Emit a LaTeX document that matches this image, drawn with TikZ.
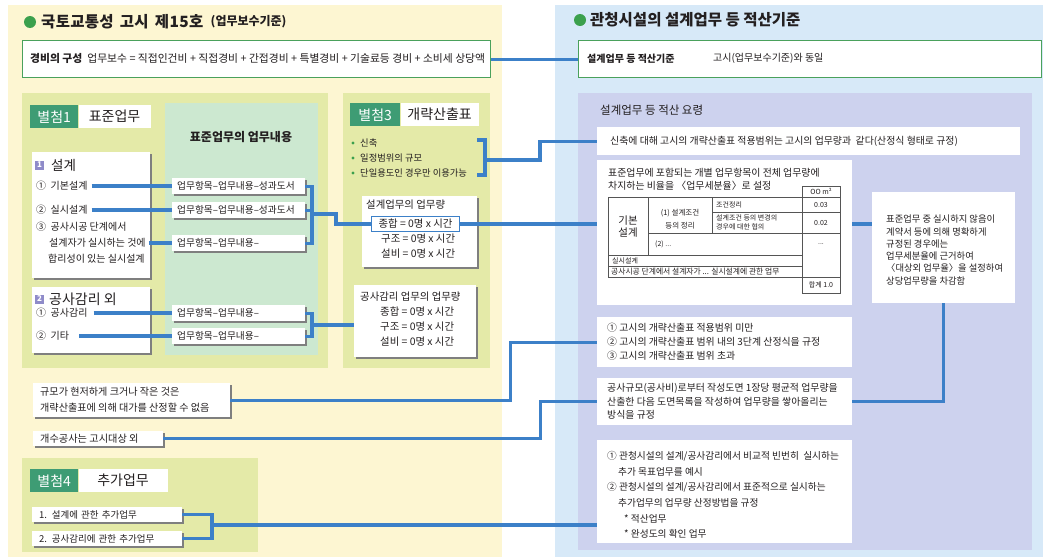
\documentclass[tikz,border=0pt]{standalone}
\usepackage{fontspec}
\setmainfont{Noto Sans CJK KR}
\newfontfamily\ttlfont[LetterSpace=2]{Noto Sans CJK KR}
\usetikzlibrary{shadows,calc}
\definecolor{bgyellow}{HTML}{FDF6D2}
\definecolor{bgblue}{HTML}{D7E9F8}
\definecolor{lav}{HTML}{CDD2EE}
\definecolor{olive}{HTML}{E4EAA8}
\definecolor{mint}{HTML}{CCE8D0}
\definecolor{labgreen}{HTML}{3E9C74}
\definecolor{cblue}{HTML}{3C80C8}
\definecolor{gborder}{HTML}{4AA15C}
\definecolor{dotgreen}{HTML}{3BA04D}
\definecolor{sqpurple}{HTML}{8F8BC9}
\definecolor{shgray}{HTML}{7F7F7F}
\definecolor{txtc}{HTML}{231F20}
\definecolor{tgray}{HTML}{555555}
\begin{document}
\begin{tikzpicture}[x=1pt,y=-1pt,
  every node/.style={text=txtc},
  conn/.style={draw=cblue, line width=3.2pt},
  wbox/.style={fill=white, inner sep=0pt, anchor=north west,
    drop shadow={shadow xshift=2pt, shadow yshift=-2pt, fill=shgray, opacity=1}},
  pbox/.style={fill=white, inner sep=0pt, anchor=north west},
  gbox/.style={fill=white, draw=gborder, line width=1.3pt, inner sep=0pt, anchor=north west},
  itembox/.style={wbox, minimum height=16pt, text width=123pt, inner xsep=5pt, align=left,
    font=\fontsize{9.7}{11}\selectfont},
  addbox/.style={wbox, minimum height=15pt, text width=136pt, inner xsep=7pt, align=left,
    font=\fontsize{9.5}{11}\selectfont},
  glab/.style={fill=labgreen, text=white, inner sep=0pt, anchor=north west, minimum height=23pt,
    font=\fontsize{14}{16}\selectfont},
  wlab/.style={fill=white, inner sep=0pt, anchor=north west, minimum height=23pt,
    font=\fontsize{14}{16}\selectfont},
  numsq/.style={fill=sqpurple, text=white, inner sep=0pt, minimum size=9pt,
    font=\fontsize{8}{9}\selectfont\bfseries},
  tx/.style={inner sep=0pt, anchor=west},
  f10/.style={font=\fontsize{10}{12}\selectfont},
  fq/.style={font=\fontsize{10.4}{12}\selectfont},
  f9/.style={font=\fontsize{9.3}{11}\selectfont},
  fr/.style={font=\fontsize{9.9}{14}\selectfont},
  ft/.style={font=\fontsize{7}{9}\selectfont},
  tl/.style={draw=tgray, line width=0.6pt},
  dot/.style={fill=dotgreen}
]
\useasboundingbox (0,0) rectangle (1043,557);

% ---------- background panels ----------
\fill[bgyellow] (8,5) rectangle (502,557);
\fill[bgblue] (555,5) rectangle (1043,557);
\fill[lav] (578,93) rectangle (1032,550);
\fill[olive] (22,93) rectangle (328,368);
\fill[mint] (165,103) rectangle (318,355);
\fill[olive] (343,93) rectangle (490,368);
\fill[olive] (22,458) rectangle (258,552);

% ---------- titles ----------
\fill[dotgreen] (30,22) circle (6pt);
\node[tx, font=\ttlfont\fontsize{15.5}{18}\selectfont\bfseries] (ttl) at (41,22)
  {국토교통성\hspace{0.4em}고시\hspace{0.4em}제15호};
\node[tx, font=\fontsize{12}{14}\selectfont\bfseries] (ttl2) at ([xshift=7pt]ttl.east) {(업무보수기준)};
\fill[dotgreen] (580,20) circle (6pt);
\node[tx, font=\fontsize{15.5}{18}\selectfont\bfseries] (ttr) at (590,20)
  {관청시설의 설계업무 등 적산기준};

% ---------- top boxes ----------
\node[gbox, minimum width=468pt, minimum height=37pt] (gb) at (22,40) {};
\node[tx, font=\fontsize{10.8}{12}\selectfont] (gbt) at (30,58.5)
  {\textbf{경비의 구성}\hspace{5pt}업무보수 = 직접인건비 + 직접경비 + 간접경비 + 특별경비 + 기술료등 경비 + 소비세 상당액};
\node[gbox, minimum width=463pt, minimum height=37pt] (sb) at (578,40) {};
\node[tx, font=\fontsize{10}{12}\selectfont\bfseries] (sbt) at (587,58.5) {설계업무 등 적산기준};
\node[tx, font=\fontsize{10}{12}\selectfont] (sbt2) at (713,58.5) {고시(업무보수기준)와 동일};
\draw[conn] (gb.east) -- (sb.west);

% ---------- 별첨1 ----------
\node[glab, minimum width=48pt] (l1) at (30,105) {별첨1};
\node[wlab, minimum width=72pt] (l1w) at (l1.north east) {표준업무};
\node[inner sep=0pt, font=\fontsize{12}{14}\selectfont\bfseries] (mh) at (241,137) {표준업무의 업무내용};

\node[wbox, minimum width=118pt, minimum height=126pt] (s1) at (32,152) {};
\node[numsq] (n1) at (39.5,165) {1};
\node[tx, font=\fontsize{13.5}{15}\selectfont] (s1h) at (51,165) {설계};
\node[tx, f10] (t11) at (36,186) {①\hspace{0.45em}기본설계};
\node[tx, f10] (t12) at (36,210) {②\hspace{0.45em}실시설계};
\node[tx, f10] (t13) at (36,227) {③\hspace{0.45em}공사시공 단계에서};
\node[tx, f10] (t14) at (49,243) {설계자가 실시하는 것에};
\node[tx, f10] (t15) at (48,259) {합리성이 있는 실시설계};

\node[itembox] (m1) at (172,178) {업무항목–업무내용–성과도서};
\node[itembox] (m2) at (172,202) {업무항목–업무내용–성과도서};
\node[itembox] (m3) at (172,235) {업무항목–업무내용–};

\draw[conn, shorten <=4pt] (t11.east) -- (t11.east -| m1.west);
\draw[conn, shorten <=4pt] (t12.east) -- (t12.east -| m2.west);
\draw[conn, shorten <=3pt] (t14.east) -- (t14.east -| m3.west);
\coordinate (br1) at (312,214);
\draw[conn] (m1.east) -| (br1);
\draw[conn] (m3.east) -| (br1);
\draw[conn] (m2.east) -- (m2.east -| br1);

\node[wbox, minimum width=118pt, minimum height=66pt] (s2) at (32,287) {};
\node[numsq] (n2) at (39.5,299) {2};
\node[tx, font=\fontsize{14}{16}\selectfont] (s2h) at (49,299) {공사감리 외};
\node[tx, f10] (t21) at (36,313) {①\hspace{0.45em}공사감리};
\node[tx, f10] (t22) at (36,336) {②\hspace{0.45em}기타};
\node[itembox] (m4) at (172,305) {업무항목–업무내용–};
\node[itembox] (m5) at (172,328) {업무항목–업무내용–};
\draw[conn, shorten <=6pt] (t21.east) -- (t21.east -| m4.west);
\draw[conn, shorten <=10pt] (t22.east) -- (t22.east -| m5.west);
\coordinate (br2) at (312,325);
\draw[conn] (m4.east) -| (br2);
\draw[conn] (m5.east) -| (br2);

% ---------- 별첨3 ----------
\node[glab, minimum width=50pt] (l3) at (350,103) {별첨3};
\node[wlab, minimum width=78pt] (l3w) at (l3.north east) {개략산출표};
\fill[dot] (353,143) circle (1.6pt);
\fill[dot] (353,158) circle (1.6pt);
\fill[dot] (353,173) circle (1.6pt);
\node[tx, f9] (bl1) at (360,143) {신축};
\node[tx, f9] (bl2) at (360,158) {일정범위의 규모};
\node[tx, f9] (bl3) at (360,173) {단일용도인 경우만 이용가능};
\coordinate (bk3t) at (477,140);
\coordinate (bk3) at (485,160);
\coordinate (bk3b) at (477,175);
\draw[conn] (bk3t) -| (bk3) |- (bk3b);

\node[wbox, minimum width=115pt, minimum height=71pt] (sg) at (362,196) {};
\node[tx, fq] (sg0) at (366,205) {설계업무의 업무량};
\node[pbox, draw=cblue, line width=1.1pt, minimum width=88pt, minimum height=15pt, fq] (jh) at (371,216) {종합 = 0명 x 시간};
\node[tx, fq] (sg2) at (381,239) {구조 = 0명 x 시간};
\node[tx, fq] (sg3) at (381,254) {설비 = 0명 x 시간};

\node[wbox, minimum width=122pt, minimum height=72pt] (gg) at (354,285) {};
\node[tx, fq] (gg0) at (360,297) {공사감리 업무의 업무량};
\node[tx, fq] (gg1) at (380,312) {종합 = 0명 x 시간};
\node[tx, fq] (gg2) at (380,327) {구조 = 0명 x 시간};
\node[tx, fq] (gg3) at (380,342) {설비 = 0명 x 시간};
\draw[conn] (br2) -- (br2 -| gg.west);
\draw[conn] (br1) -- ++(24,0) |- (jh.west);

% ---------- lower left ----------
\node[wbox, minimum width=197pt, minimum height=34pt] (gm) at (33,383) {};
\node[tx, align=left, font=\fontsize{10.1}{16}\selectfont] (gmt) at (40,400)
  {규모가 현저하게 크거나 작은 것은\\개략산출표에 의해 대가를 산정할 수 없음};
\node[wbox, minimum width=130pt, minimum height=15pt] (gx) at (33,431) {};
\node[tx, font=\fontsize{10.2}{11}\selectfont] (gxt) at (40,438.5) {개수공사는 고시대상 외};

\node[glab, minimum width=48pt] (l4) at (30,469) {별첨4};
\node[wlab, minimum width=89pt] (l4w) at (l4.north east) {추가업무};
\node[addbox] (a1) at (32,507) {1. 설계에 관한 추가업무};
\node[addbox] (a2) at (32,531) {2. 공사감리에 관한 추가업무};
\coordinate (br4) at (212,525);
\draw[conn] (a1.east) -| (br4);
\draw[conn] (a2.east) -| (br4);

% ---------- right side ----------
\node[tx, font=\fontsize{11.5}{14}\selectfont] (yr) at (600,110) {설계업무 등 적산 요령};

\node[pbox, minimum width=423pt, minimum height=28pt] (sc) at (597,127) {};
\node[tx, fr] (sct) at (610,141) {신축에 대해 고시의 개략산출표 적용범위는 고시의 업무량과\ \ 같다(산정식 형태로 규정)};

\node[pbox, minimum width=255pt, minimum height=145pt] (tb) at (597,160) {};
\node[tx, fr] (tb1) at (608,173) {표준업무에 포함되는 개별 업무항목이 전체 업무량에};
\node[tx, fr] (tb2) at (608,186) {차지하는 비율을 〈업무세분율〉로 설정};

% table
\draw[tl] (802,186) rectangle (840,197);
\draw[tl] (608,197) -- (802,197);
\draw[tl] (608,197) -- (608,277) -- (840,277);
\draw[tl] (802,197) -- (802,293) -- (840,293) -- (840,197);
\draw[tl] (648,197) -- (648,255);
\draw[tl] (712,197) -- (712,233);
\draw[tl] (712,212) -- (840,212);
\draw[tl] (648,233) -- (840,233);
\draw[tl] (608,255) -- (802,255);
\draw[tl] (608,266) -- (802,266);
\node[inner sep=0pt, ft] (c00) at (821,191.5) {OO m²};
\node[inner sep=0pt, align=center, font=\fontsize{10.5}{12}\selectfont] (c11) at (628,227) {기본\\설계};
\node[inner sep=0pt, align=center, font=\fontsize{7.5}{13}\selectfont] (c12) at (680,219) {(1) 설계조건\\등의 정리};
\node[tx, ft] (c13) at (716,204.5) {조건정리};
\node[tx, ft, align=left] (c14) at (716,222.5) {설계조건 등의 변경의\\경우에 대한 협의};
\node[inner sep=0pt, ft] (c15) at (821,204.5) {0.03};
\node[inner sep=0pt, ft] (c16) at (821,222.5) {0.02};
\node[inner sep=0pt, ft] (c17) at (821,244) {...};
\node[tx, ft] (c18) at (655,244) {(2) ...};
\node[tx, ft] (c19) at (612,260.5) {실시설계};
\node[tx, font=\fontsize{7.8}{9}\selectfont] (c20) at (611,271.5) {공사시공 단계에서 설계자가 ... 실시설계에 관한 업무};
\node[inner sep=0pt, ft] (c21) at (821,285) {합계 1.0};

\node[pbox, minimum width=143pt, minimum height=111pt] (pj) at (872,192) {};
\node[tx, align=left, font=\fontsize{9.3}{12.3}\selectfont] (pjt) at (886,250)
  {표준업무 중 실시하지 않음이\\계약서 등에 의해 명확하게\\규정된 경우에는\\업무세분율에 근거하여\\〈대상외 업무율〉을 설정하여\\상당업무량을 차감함};

\node[pbox, minimum width=255pt, minimum height=50pt] (r1) at (597,317) {};
\node[tx, fr, align=left] (r1t) at (607,342)
  {① 고시의 개략산출표 적용범위 미만\\② 고시의 개략산출표 범위 내의 3단계 산정식을 규정\\③ 고시의 개략산출표 범위 초과};

\node[pbox, minimum width=255pt, minimum height=47pt] (gs) at (597,378) {};
\node[tx, align=left, font=\fontsize{9.9}{13.5}\selectfont] (gst) at (607,401.5)
  {공사규모(공사비)로부터 작성도면 1장당 평균적 업무량을\\산출한 다음 도면목록을 작성하여 업무량을 쌓아올리는\\방식을 규정};

\node[pbox, minimum width=255pt, minimum height=103pt] (r4) at (597,440) {};
\node[tx, align=left, font=\fontsize{9.7}{15.6}\selectfont] (r4t) at (607,495)
  {① 관청시설의 설계/공사감리에서 비교적 빈번히\ \ 실시하는\\\hspace*{11pt}추가 목표업무를 예시\\② 관청시설의 설계/공사감리에서 표준적으로 실시하는\\\hspace*{11pt}추가업무의 업무량 산정방법을 규정\\\hspace*{17pt}* 적산업무\\\hspace*{17pt}* 완성도의 확인 업무};

% ---------- long connectors ----------
\draw[conn] (bk3) -- ++(55,0) |- (sc.west);
\draw[conn] (jh.east) -- (jh.east -| tb.west);
\draw[conn] (jh.east -| tb.east) -- (jh.east -| pj.west);
\draw[conn] (gm.east) -- ++(280,0) |- (r1.west);
\draw[conn] (gx.east) -- ++(377,0) |- (gs.west);
\draw[conn] (gs.east) -| (pj.south);
\draw[conn] (br4) -- (br4 -| r4.west);
\end{tikzpicture}
\end{document}
